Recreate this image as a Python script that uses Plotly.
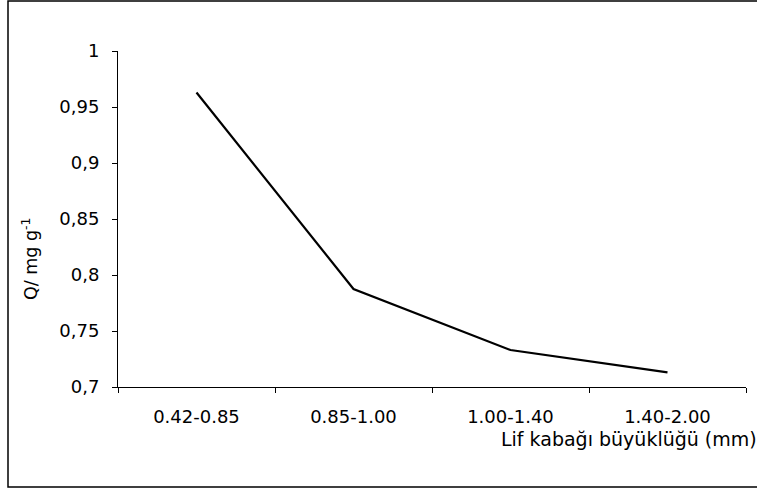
import plotly.graph_objects as go

categories = ["0.42-0.85", "0.85-1.00", "1.00-1.40", "1.40-2.00"]
q_values = [0.963, 0.7875, 0.733, 0.713]
y_tickvals = [0.7, 0.75, 0.8, 0.85, 0.9, 0.95, 1.0]
y_ticktext = ["0,7", "0,75", "0,8", "0,85", "0,9", "0,95", "1"]
x_title = "Lif kabağı büyüklüğü (mm)"
y_title = "Q/ mg g<sup>-1</sup>"

FONT = "DejaVu Sans, Arial, sans-serif"

fig = go.Figure()
fig.add_trace(go.Scatter(x=categories, y=q_values, mode="lines",
                         line=dict(color="black", width=2.2), showlegend=False))

W, H = 757, 490
L, R, T, B = 118, 11, 51, 103
pw, ph = W - L - R, H - T - B

def px(x):
    return (x - L) / pw

def py(y):
    return (H - B - y) / ph

fig.update_layout(
    width=W, height=H,
    margin=dict(l=L, r=R, t=T, b=B),
    paper_bgcolor="white", plot_bgcolor="white",
    font=dict(family=FONT, color="black", size=16),
    xaxis=dict(type="category", range=[-0.5, 3.5], showline=True, linecolor="black",
               linewidth=1, ticks="outside", tickson="boundaries", ticklen=5,
               tickcolor="black", showgrid=False, zeroline=False,
               tickfont=dict(size=18, family=FONT), ticklabelstandoff=13),
    yaxis=dict(range=[0.7, 1.0], showline=True, linecolor="black", linewidth=1,
               ticks="outside", ticklen=5, tickcolor="black", showgrid=False,
               zeroline=False, tickvals=y_tickvals, ticktext=y_ticktext,
               tickfont=dict(size=18, family=FONT), ticklabelstandoff=9),
    shapes=[dict(type="rect", xref="paper", yref="paper",
                 x0=px(8), x1=px(770), y0=py(487), y1=py(1),
                 line=dict(color="black", width=1.5), fillcolor="rgba(0,0,0,0)")],
    annotations=[
        dict(text=x_title, xref="paper", yref="paper", x=px(499), y=py(439),
             xanchor="left", yanchor="middle", showarrow=False,
             font=dict(size=19, family=FONT)),
        dict(text=y_title, xref="paper", yref="paper", x=px(30), y=py(259),
             xanchor="center", yanchor="middle", textangle=-90, showarrow=False,
             font=dict(size=17.5, family=FONT)),
    ],
)

fig.write_html("out.html")
